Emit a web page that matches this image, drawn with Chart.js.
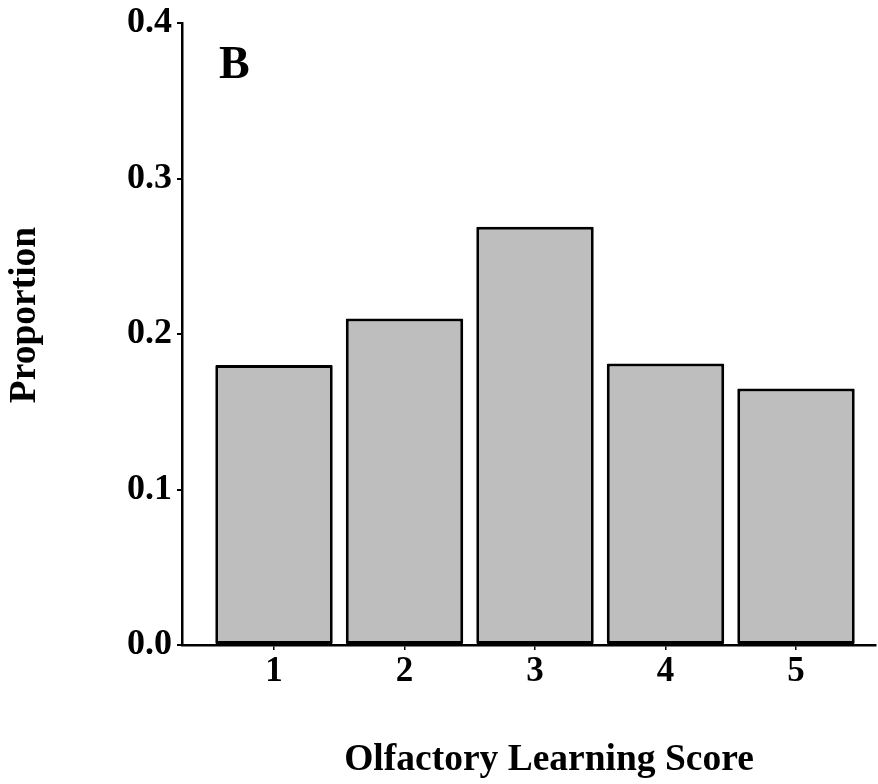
<!DOCTYPE html>
<html>
<head>
    <title>Olfactory Learning Score</title>
    <script src="https://cdn.jsdelivr.net/npm/chart.js"></script>
    <style>
        body { margin: 0; background: #fff; }
        .chart-container { width: 878px; height: 784px; }
    </style>
</head>
<body>
    <div class="chart-container">
        <canvas id="scoreChart"></canvas>
    </div>

    <script>
        // Score categories and proportion of subjects in each
        const scores = [1, 2, 3, 4, 5];
        const proportions = [0.180, 0.210, 0.269, 0.181, 0.165];
        const yTicks = [0, 0.1, 0.2, 0.3, 0.4];

        const serif = "'Liberation Serif', 'Times New Roman', serif";
        const ink = '#000';

        // Axis titles and panel letter, placed around the plot area
        const annotations = {
            id: 'annotations',
            afterDraw(chart) {
                const ctx = chart.ctx;
                ctx.save();
                ctx.fillStyle = ink;
                ctx.textBaseline = 'alphabetic';

                ctx.font = 'bold 46px ' + serif;
                ctx.textAlign = 'left';
                ctx.fillText('B', 219, 78);

                ctx.font = 'bold 37.5px ' + serif;
                ctx.textAlign = 'center';
                ctx.fillText('Olfactory Learning Score', 549, 770);

                ctx.translate(35, 315);
                ctx.rotate(-Math.PI / 2);
                ctx.fillText('Proportion', 0, 0);
                ctx.restore();
            }
        };

        const ctx = document.getElementById('scoreChart').getContext('2d');
        const chart = new Chart(ctx, {
            type: 'bar',
            data: {
                datasets: [{
                    data: scores.map((s, i) => ({ x: s, y: proportions[i] })),
                    backgroundColor: '#bebebe',
                    borderColor: ink,
                    borderWidth: 3,
                    borderSkipped: false,
                    borderRadius: 1,
                    barPercentage: 0.9,
                    categoryPercentage: 1.0
                }]
            },
            options: {
                responsive: true,
                maintainAspectRatio: false,
                animation: false,
                layout: { padding: { left: 0, top: 20, right: 2, bottom: 0 } },
                plugins: {
                    legend: { display: false },
                    tooltip: { enabled: false }
                },
                scales: {
                    x: {
                        type: 'linear',
                        offset: false,
                        min: 0.295,
                        max: 5.613,
                        afterBuildTicks: scale => {
                            scale.ticks = scores.map(v => ({ value: v }));
                        },
                        afterFit: scale => { scale.height = 139; },
                        grid: {
                            offset: false,
                            drawOnChartArea: false,
                            drawTicks: true,
                            tickLength: 5,
                            color: ink,
                            lineWidth: 1.5
                        },
                        border: { display: true, color: ink, width: 2.5 },
                        ticks: {
                            color: ink,
                            padding: 4,
                            font: { family: serif, size: 35, weight: 'bold', lineHeight: 1 },
                            callback: v => String(v)
                        }
                    },
                    y: {
                        min: 0,
                        max: 0.4,
                        afterBuildTicks: scale => {
                            scale.ticks = yTicks.map(v => ({ value: v }));
                        },
                        afterFit: scale => { scale.width = 182; },
                        grid: {
                            drawOnChartArea: false,
                            drawTicks: true,
                            tickLength: 5,
                            color: ink,
                            lineWidth: 2
                        },
                        border: { display: true, color: ink, width: 2.5 },
                        ticks: {
                            color: ink,
                            padding: 5,
                            font: { family: serif, size: 36, weight: 'bold', lineHeight: 1 },
                            callback: v => v.toFixed(1)
                        }
                    }
                }
            },
            plugins: [annotations]
        });
    </script>
</body>
</html>
